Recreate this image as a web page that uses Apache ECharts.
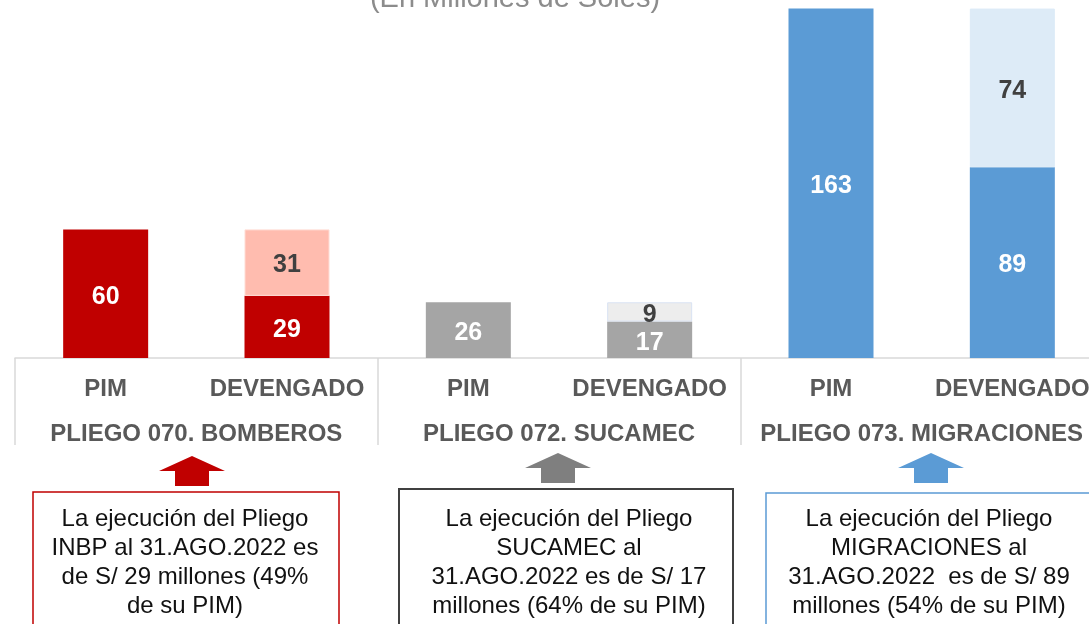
<!DOCTYPE html>
<html>
<head>
<meta charset="utf-8">
<script src="https://cdn.jsdelivr.net/npm/echarts@6/dist/echarts.min.js"></script>
<style>
  html, body { margin: 0; padding: 0; background: #fff; }
  #chart { width: 1089px; height: 624px; }
</style>
</head>
<body>
<div id="chart"></div>
<script>
// datos (millones de soles)
const categorias = ['PIM', 'DEVENGADO', 'PIM', 'DEVENGADO', 'PIM', 'DEVENGADO']
const pliegos = ['PLIEGO 070. BOMBEROS', 'PLIEGO 072. SUCAMEC', 'PLIEGO 073. MIGRACIONES']
const ejecutado = [60, 29, 26, 17, 163, 89]
const saldo = [null, 31, null, 9, null, 74]
const coloresFuertes = ['#C00000', '#C00000', '#A5A5A5', '#A5A5A5', '#5B9BD5', '#5B9BD5']
const coloresSuaves = ['#FFBCAF', '#FFBCAF', '#EDEDED', '#EDEDED', '#DDEBF7', '#DDEBF7']
const bordesSuaves = ['#FFDCD4', '#FFDCD4', '#DAE3F3', '#DAE3F3', '#DDEBF7', '#DDEBF7']
const notas = [
  'La ejecución del Pliego\nINBP al 31.AGO.2022 es\nde S/ 29 millones (49%\nde su PIM)',
  'La ejecución del Pliego\nSUCAMEC al\n31.AGO.2022 es de S/ 17\nmillones (64% de su PIM)',
  'La ejecución del Pliego\nMIGRACIONES al\n31.AGO.2022  es de S/ 89\nmillones (54% de su PIM)'
]

const FONT = "'Liberation Sans', Arial, sans-serif"
const chart = echarts.init(document.getElementById('chart'))

// cajas de texto y flechas bajo cada pliego
const cajas = [
  { x: 33, y: 492, w: 306, color: '#C00000', lw: 1.5, tx: 185 },
  { x: 399, y: 489, w: 334, color: '#404040', lw: 2, tx: 569 },
  { x: 766, y: 493, w: 340, color: '#5B9BD5', lw: 1.5, tx: 929 }
]
const flechas = [
  { cx: 192, top: 456, color: '#C00000' },
  { cx: 558, top: 453, color: '#7F7F7F' },
  { cx: 931, top: 453, color: '#5B9BD5' }
]

const graficos = [
  {
    type: 'text',
    x: 515,
    y: 13,
    style: {
      text: '(En Millones de Soles)',
      font: '29px ' + FONT,
      fill: '#8C8C8C',
      textAlign: 'center',
      textVerticalAlign: 'bottom'
    }
  }
]
flechas.forEach(f => {
  graficos.push({
    type: 'polygon',
    shape: {
      points: [
        [f.cx, f.top], [f.cx + 33, f.top + 15], [f.cx + 17, f.top + 15], [f.cx + 17, f.top + 30],
        [f.cx - 17, f.top + 30], [f.cx - 17, f.top + 15], [f.cx - 33, f.top + 15]
      ]
    },
    style: { fill: f.color }
  })
})
cajas.forEach((c, i) => {
  graficos.push({
    type: 'rect',
    shape: { x: c.x, y: c.y, width: c.w, height: 200 },
    style: { fill: '#fff', stroke: c.color, lineWidth: c.lw }
  })
  graficos.push({
    type: 'text',
    x: c.tx,
    y: 505,
    style: {
      text: notas[i],
      font: '24px ' + FONT,
      lineHeight: 29,
      fill: '#111',
      textAlign: 'center',
      textVerticalAlign: 'top'
    }
  })
})

chart.setOption({
  animation: false,
  // el eje sigue más allá del borde derecho, como en el original recortado
  grid: { left: 15, width: 1088, top: 0, height: 358, outerBoundsMode: 'none' },
  xAxis: [
    {
      type: 'category',
      data: categorias,
      axisLine: { lineStyle: { color: '#D9D9D9', width: 1.5 } },
      axisTick: { show: false },
      axisLabel: { interval: 0, margin: 19, fontSize: 24, fontWeight: 'bold', color: '#595959', fontFamily: FONT }
    },
    {
      type: 'category',
      data: pliegos,
      position: 'bottom',
      axisLine: { show: false },
      axisTick: { show: true, length: 87, lineStyle: { color: '#D9D9D9', width: 1.5 } },
      axisLabel: { interval: 0, margin: 64, fontSize: 24, fontWeight: 'bold', color: '#595959', fontFamily: FONT }
    }
  ],
  yAxis: { type: 'value', min: 0, max: 167, show: false },
  series: [
    {
      type: 'bar',
      stack: 'total',
      barWidth: 85,
      data: ejecutado.map((v, i) => ({ value: v, itemStyle: { color: coloresFuertes[i] } })),
      label: { show: true, position: 'inside', offset: [0, 3], fontSize: 25, fontWeight: 'bold', color: '#fff', fontFamily: FONT }
    },
    {
      type: 'bar',
      stack: 'total',
      barWidth: 85,
      data: saldo.map((v, i) => ({
        value: v,
        itemStyle: { color: coloresSuaves[i], borderColor: bordesSuaves[i], borderWidth: 1 }
      })),
      label: { show: true, position: 'inside', offset: [0, 3], fontSize: 25, fontWeight: 'bold', color: '#404040', fontFamily: FONT }
    }
  ],
  graphic: graficos
})
</script>
</body>
</html>
